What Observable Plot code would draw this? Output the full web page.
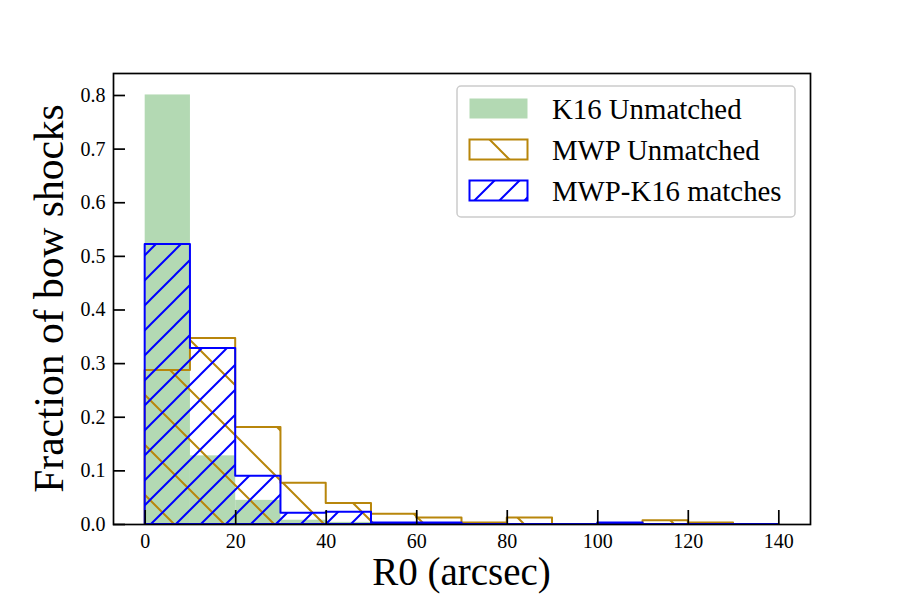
<!DOCTYPE html>
<html><head><meta charset="utf-8">
<script src="https://cdn.jsdelivr.net/npm/d3@7"></script>
<script src="https://cdn.jsdelivr.net/npm/@observablehq/plot@0.6"></script>
<style>body{margin:0;background:#fff}#chart{width:900px;height:600px}</style>
</head><body><div id="chart"></div>
<script>
// ---- data ----
const binEdges = [0, 10, 20, 30, 40, 50, 60, 70, 80, 90, 100, 110, 120, 130, 140];
const k16Unmatched = [0.801, 0.128, 0.045, 0.008, 0.004, 0, 0, 0, 0, 0, 0, 0, 0, 0];
const mwpUnmatched = [0.287, 0.347, 0.181, 0.077, 0.039, 0.019, 0.012, 0.003, 0.012, 0, 0, 0.007, 0.003, 0];
const mwpK16Matches = [0.522, 0.328, 0.090, 0.021, 0.023, 0.003, 0.003, 0, 0, 0, 0.003, 0, 0, 0];
const xTicks = [0, 20, 40, 60, 80, 100, 120, 140];
const yTicks = [0.0, 0.1, 0.2, 0.3, 0.4, 0.5, 0.6, 0.7, 0.8];
const seriesNames = ["K16 Unmatched", "MWP Unmatched", "MWP-K16 matches"];
const xLabel = "R0 (arcsec)";
const yLabel = "Fraction of bow shocks";

// ---- layout / style ----
const W = 900, H = 600, mL = 113, mR = 90, mT = 73, mB = 76;
const GREEN = "rgb(179,217,179)", GOLD = "#b8860b", BLUE = "#0000ff";
const FONT = "'Liberation Serif', 'Times New Roman', Times, serif";

const bars = k16Unmatched.map((v, i) => ({x1: binEdges[i], x2: binEdges[i + 1], y: v}));
const stepPts = vals => binEdges.map((e, i) => ({x: e, y: vals[Math.min(i, vals.length - 1)]}));

const plot = Plot.plot({
  width: W, height: H,
  marginLeft: mL, marginRight: mR, marginTop: mT, marginBottom: mB,
  style: {fontFamily: FONT, fontSize: "20px", color: "black", background: "white"},
  x: {domain: [-7, 147]},
  y: {domain: [0, 0.841]},
  marks: [
    Plot.rectY(bars, {x1: "x1", x2: "x2", y: "y", fill: GREEN, inset: 0}),
    Plot.areaY(stepPts(mwpUnmatched), {x: "x", y: "y", curve: "step-after", fill: "url(#hatch-mwp)", stroke: GOLD, strokeWidth: 2}),
    Plot.areaY(stepPts(mwpK16Matches), {x: "x", y: "y", curve: "step-after", fill: "url(#hatch-match)", stroke: BLUE, strokeWidth: 2}),
    Plot.frame({stroke: "black", strokeWidth: 1.7}),
    Plot.tickX(xTicks, {x: d => d, insetTop: (H - mT - mB) - 14, stroke: "black", strokeWidth: 1.7}),
    Plot.tickY(yTicks, {y: d => d, insetRight: (W - mL - mR) - 12, stroke: "black", strokeWidth: 1.7}),
    Plot.axisX({ticks: xTicks, tickSize: 0, tickPadding: 9, label: null, fontSize: 20, tickFormat: d => String(d)}),
    Plot.axisY({ticks: yTicks, tickSize: 0, tickPadding: 8, label: null, fontSize: 20, tickFormat: d => d.toFixed(1)})
  ]
});
document.getElementById("chart").append(plot);

const svg = d3.select(plot);
const defs = svg.insert("defs", ":first-child");
const pm = defs.append("pattern").attr("id", "hatch-match")
  .attr("patternUnits", "userSpaceOnUse").attr("width", 25).attr("height", 25);
pm.append("path").attr("d", "M-5,5L5,-5M0,25L25,0M20,30L30,20")
  .attr("stroke", BLUE).attr("stroke-width", 2).attr("fill", "none");
const po = defs.append("pattern").attr("id", "hatch-mwp")
  .attr("patternUnits", "userSpaceOnUse").attr("width", 50).attr("height", 50);
po.append("path").attr("d", "M-5,-5L55,55M-5,45L5,55M45,-5L55,5")
  .attr("stroke", GOLD).attr("stroke-width", 2).attr("fill", "none");

// axis titles
svg.append("text").attr("x", (mL + W - mR) / 2).attr("y", 585)
  .attr("text-anchor", "middle").style("font-size", "39px").style("font-family", FONT)
  .attr("fill", "black").text(xLabel);
svg.append("text").attr("transform", `translate(63,${(mT + H - mB) / 2}) rotate(-90)`)
  .attr("text-anchor", "middle").style("font-size", "41.5px").style("font-family", FONT)
  .attr("fill", "black").text(yLabel);

// legend
const lg = svg.append("g").attr("text-anchor", "start");
lg.append("rect").attr("x", 457).attr("y", 86).attr("width", 338).attr("height", 131)
  .attr("rx", 4).attr("fill", "white").attr("fill-opacity", 0.8)
  .attr("stroke", "#cccccc").attr("stroke-width", 1.5);
const swFill = [GREEN, "url(#hatch-mwp)", "url(#hatch-match)"];
const swStroke = ["none", GOLD, BLUE];
seriesNames.forEach((name, i) => {
  const top = 98.5 + i * 41;
  lg.append("rect").attr("x", 469.5).attr("y", top).attr("width", 58).attr("height", 20)
    .attr("fill", swFill[i]).attr("stroke", swStroke[i]).attr("stroke-width", 2);
  lg.append("text").attr("x", 552).attr("y", top + 20.5).attr("text-anchor", "start")
    .style("font-size", "28.8px").style("font-family", FONT).attr("fill", "black").text(name);
});
</script>
</body></html>
